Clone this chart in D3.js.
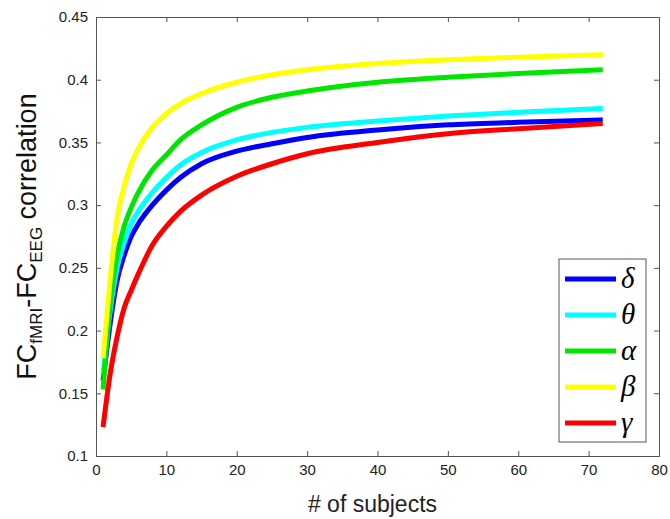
<!DOCTYPE html>
<html><head><meta charset="utf-8">
<script src="https://cdn.jsdelivr.net/npm/d3@7"></script>
<style>body{margin:0;background:#fff}text{font-family:"Liberation Sans",Arial,sans-serif}</style>
</head><body>
<svg id="c" width="670" height="519"></svg>
<script>
var subjects = [1,2,3,4,5,6,8,10,12,15,20,25,30,40,50,60,72];
var delta = [0.160,0.205,0.240,0.260,0.275,0.285,0.300,0.312,0.322,0.333,0.343,0.349,0.354,0.360,0.364,0.366,0.368];
var theta = [0.165,0.215,0.250,0.270,0.285,0.295,0.310,0.322,0.332,0.342,0.352,0.358,0.362,0.367,0.371,0.374,0.377];
var alpha = [0.153,0.220,0.260,0.283,0.298,0.310,0.328,0.340,0.352,0.364,0.378,0.386,0.391,0.398,0.402,0.405,0.408];
var beta  = [0.178,0.240,0.290,0.315,0.333,0.345,0.362,0.373,0.381,0.389,0.398,0.404,0.408,0.413,0.416,0.418,0.420];
var gamma = [0.123,0.165,0.195,0.218,0.232,0.245,0.268,0.283,0.295,0.308,0.323,0.333,0.341,0.350,0.357,0.361,0.365];
var names = ["δ","θ","α","β","γ"];
var colors = ["#0000ff","#00ffff","#00e600","#ffff00","#ff0000"];
var series = [delta,theta,alpha,beta,gamma];
var xTicks = [0,10,20,30,40,50,60,70,80];
var yTicks = [0.1,0.15,0.2,0.25,0.3,0.35,0.4,0.45];

var svg = d3.select("#c");
var L=96,R=659,T=17,B=456;
var x = d3.scaleLinear().domain([0,80]).range([L,R]);
var y = d3.scaleLinear().domain([0.1,0.45]).range([B,T]);

svg.append("g").attr("transform","translate(0,"+B+")")
  .call(d3.axisBottom(x).tickValues(xTicks).tickSize(-5).tickPadding(8).tickFormat(d3.format("d")));
svg.append("g").attr("transform","translate("+L+",0)")
  .call(d3.axisLeft(y).tickValues(yTicks).tickSize(-5).tickPadding(8).tickFormat(function(d){return d3.format("")(+d.toFixed(2));}));
svg.append("g").attr("transform","translate(0,"+T+")")
  .call(d3.axisTop(x).tickValues(xTicks).tickSize(-5).tickFormat(""));
svg.append("g").attr("transform","translate("+R+",0)")
  .call(d3.axisRight(y).tickValues(yTicks).tickSize(-5).tickFormat(""));
svg.selectAll(".domain,.tick line").attr("stroke","#555");
svg.selectAll(".tick text").attr("font-size",15).attr("fill","#222");

var line = d3.line().x(function(d,i){return x(subjects[i]);}).y(function(d){return y(d);}).curve(d3.curveMonotoneX);
series.forEach(function(s,k){
  svg.append("path").attr("d",line(s)).attr("fill","none").attr("stroke",colors[k]).attr("stroke-width",5);
});

var lg = svg.append("g");
lg.append("rect").attr("x",559).attr("y",259).attr("width",87).attr("height",183).attr("fill","#fff").attr("stroke","#555");
names.forEach(function(n,k){
  var yy = 279 + k*36;
  lg.append("line").attr("x1",565).attr("x2",616).attr("y1",yy).attr("y2",yy).attr("stroke",colors[k]).attr("stroke-width",5);
  lg.append("text").attr("x",621).attr("y",yy+9).attr("font-size",29).attr("font-style","italic")
    .style("font-family","'Liberation Serif',serif").text(n);
});

svg.append("text").attr("x",(L+R)/2 - 5).attr("y",512).attr("text-anchor","middle").attr("font-size",23).attr("fill","#222").text("# of subjects");
var yl = svg.append("text").attr("transform","translate(36,"+((T+B)/2)+") rotate(-90)").attr("text-anchor","middle").attr("font-size",27).attr("fill","#111");
yl.append("tspan").text("FC");
yl.append("tspan").attr("font-size",17).attr("dy",6).text("fMRI");
yl.append("tspan").attr("dy",-6).text("-FC");
yl.append("tspan").attr("font-size",17).attr("dy",6).text("EEG");
yl.append("tspan").attr("dy",-6).text(" correlation");
</script>
</body></html>
